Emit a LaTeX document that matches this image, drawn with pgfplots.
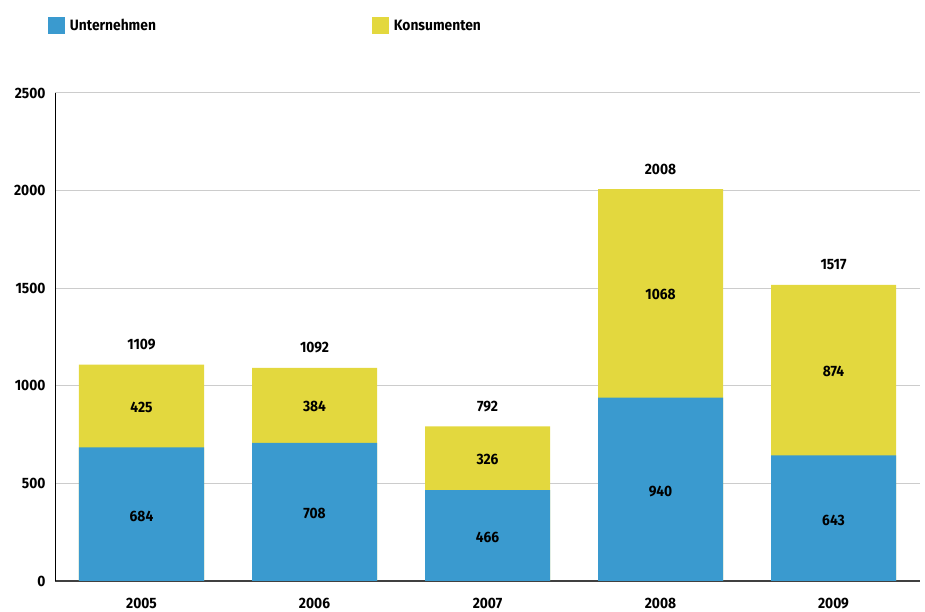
\documentclass[border=0pt]{standalone}
\usepackage{fontspec}
\setmainfont{Fira Sans}[FakeStretch=0.92]
\usepackage{pgfplots}
\pgfplotsset{compat=1.18}
\usepackage{pgfplotstable}
\definecolor{blu}{HTML}{3A9ACF}
\definecolor{yel}{HTML}{E3D83E}
\pgfplotstableread{
x year u k total
0 2005 684 425 1109
1 2006 708 384 1092
2 2007 466 326 792
3 2008 940 1068 2008
4 2009 643 874 1517
}\data
\newcommand{\lbl}{\bfseries\fontsize{15}{17}\selectfont}
\begin{document}
\begin{tikzpicture}
\path[use as bounding box] (-55pt,-31pt) rectangle (870pt,581pt);
\begin{axis}[
  at={(0,0)}, anchor=south west,
  scale only axis, width=865pt, height=488pt,
  xmin=-0.5, xmax=4.5, ymin=0, ymax=2500,
  xtick={0,1,2,3,4}, xticklabels={2005,2006,2007,2008,2009},
  ytick={0,500,1000,1500,2000,2500},
  ymajorgrids, grid style={draw=black!20, line width=1pt},
  axis x line*=bottom, axis y line*=left,
  x axis line style={draw=black!75, line width=1.4pt, -},
  y axis line style={draw=black, line width=0.9pt, -},
  major tick length=0pt,
  tick label style={font=\lbl},
  yticklabel style={xshift=-6pt},
  xticklabel style={yshift=-13.5pt},
  /pgf/number format/assume math mode=true,
  /pgf/number format/1000 sep={},
  legend columns=2,
  legend image code/.code={\fill[#1, draw=none] (0pt,-8.5pt) rectangle (17pt,8.5pt);},
  legend style={at={(axis description cs:0,1)}, anchor=west, xshift=-7pt, yshift=67pt,
    draw=none, fill=none, inner sep=0pt, outer sep=0pt, font=\lbl,
    nodes={inner sep=0pt},
    /tikz/every odd column/.append style={column sep=5pt},
    /tikz/every even column/.append style={column sep=216pt}},
  legend cell align=left,
]
\addlegendimage{fill=blu, draw=none}
\addlegendentry{Unternehmen}
\addlegendimage{fill=yel, draw=none}
\addlegendentry{Konsumenten}
\addplot[ybar, bar width=125pt, bar shift=0pt, fill=yel, draw=none, forget plot] table[x=x,y=total]{\data};
\addplot[ybar, bar width=125pt, bar shift=0pt, fill=blu, draw=none, forget plot] table[x=x,y=u]{\data};
\addplot[draw=none, mark=none, forget plot, nodes near coords, point meta=\thisrow{u},
  every node near coord/.style={anchor=center, yshift=-2pt, font=\lbl, black}] table[x=x, y expr=\thisrow{u}/2]{\data};
\addplot[draw=none, mark=none, forget plot, nodes near coords, point meta=\thisrow{k},
  every node near coord/.style={anchor=center, yshift=-1pt, font=\lbl, black}] table[x=x, y expr=\thisrow{u}+\thisrow{k}/2]{\data};
\addplot[draw=none, mark=none, forget plot, nodes near coords, point meta=\thisrow{total},
  every node near coord/.style={anchor=center, yshift=20pt, font=\lbl, black}] table[x=x, y=total]{\data};
\end{axis}
\end{tikzpicture}
\end{document}
